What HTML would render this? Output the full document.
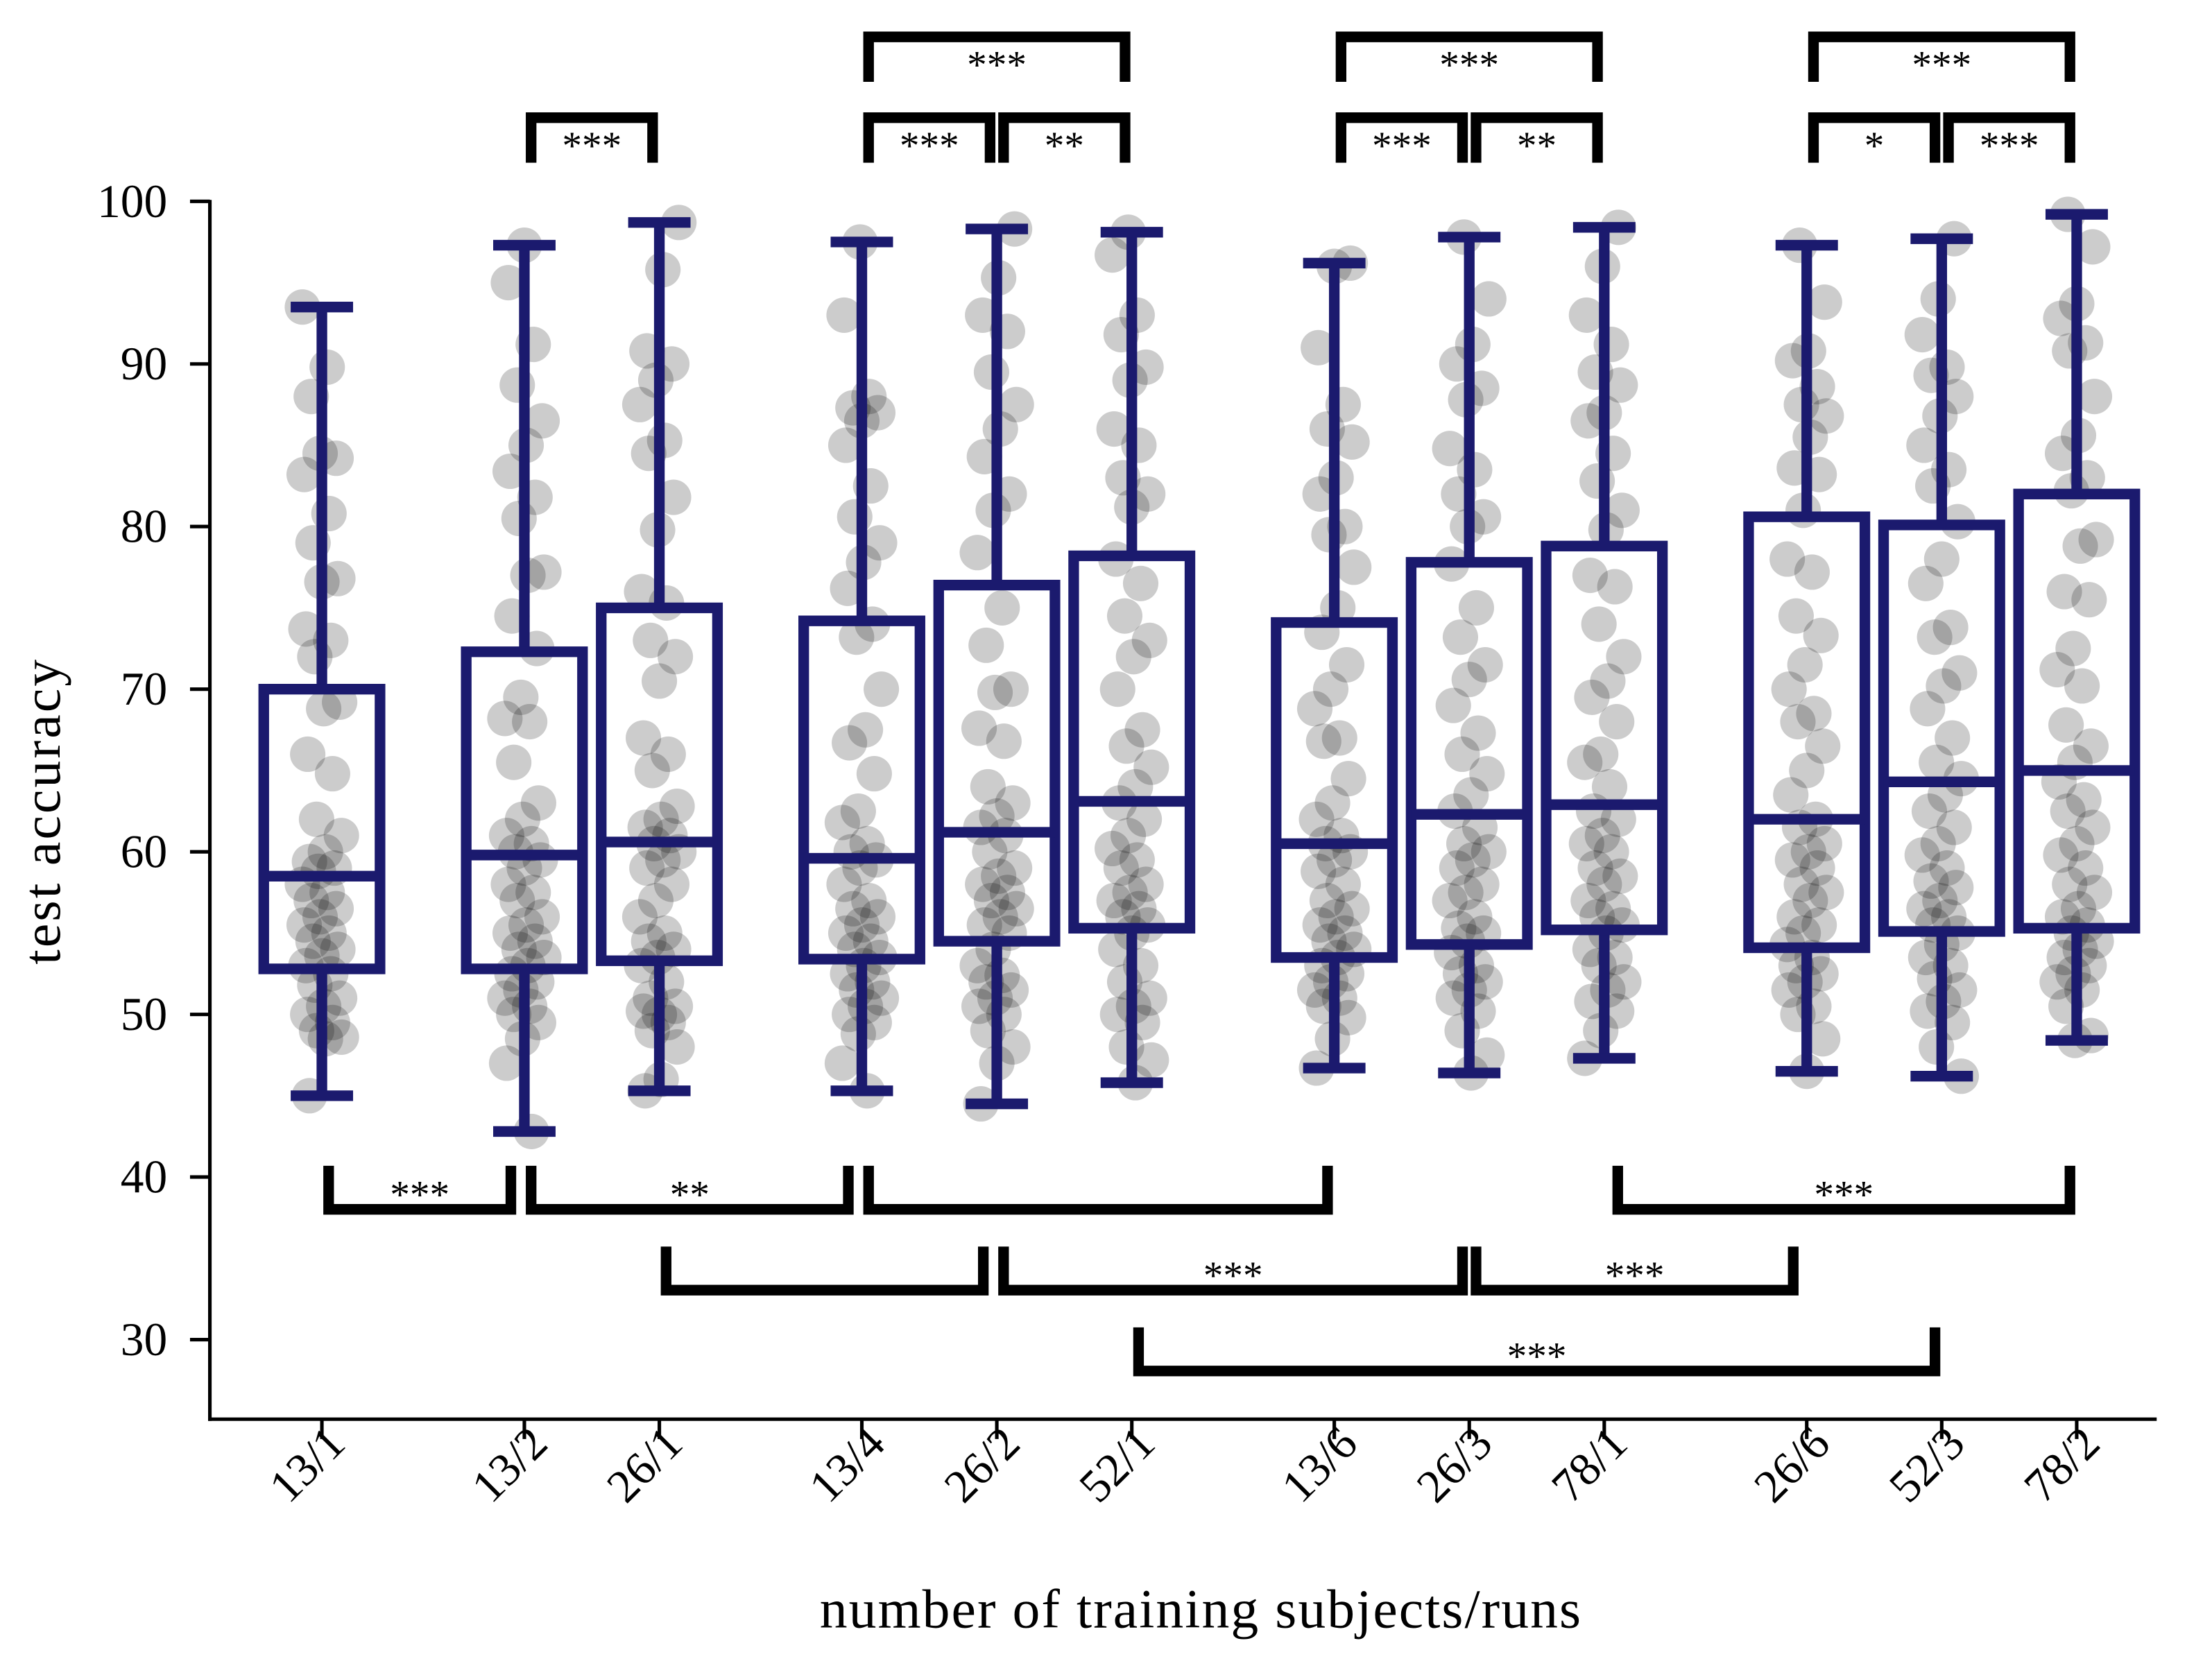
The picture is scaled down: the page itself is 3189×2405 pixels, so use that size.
<!DOCTYPE html>
<html><head><meta charset="utf-8"><style>
html,body{margin:0;padding:0;background:#fff}
svg{display:block}
text{font-family:"Liberation Serif",serif;fill:#000}
</style></head><body>
<svg id="chart" width="3189" height="2405" viewBox="0 0 1560 1176.5" xmlns="http://www.w3.org/2000/svg">
<g id="points"></g>
<g id="boxes"></g>
<g id="axes"></g>
<g id="brackets"></g>
</svg>
<script>
const categories=["13/1","13/2","26/1","13/4","26/2","52/1","13/6","26/3","78/1","26/6","52/3","78/2"];
const positions=[0,1.5,2.5,4,5,6,7.5,8.5,9.5,11,12,13];
const whisLo=[45,42.8,45.3,45.3,44.5,45.8,46.7,46.4,47.3,46.5,46.2,48.4];
const q1=[52.8,52.8,53.3,53.4,54.5,55.3,53.5,54.3,55.2,54.1,55.1,55.3];
const medians=[58.5,59.8,60.6,59.6,61.2,63.1,60.5,62.3,62.9,62,64.3,65];
const q3=[70,72.3,75,74.2,76.4,78.2,74.1,77.8,78.8,80.6,80.1,82];
const whisHi=[93.5,97.3,98.7,97.5,98.3,98.1,96.2,97.8,98.4,97.3,97.7,99.2];
const yTicks=[30,40,50,60,70,80,90,100];
const pts=[
[93.5,89.8,88,84.2,84.5,83.2,80.8,79,76.8,76.6,73.7,73,72,69.2,68.8,66,64.8,62,61,60,59.4,59,58.8,58,57.5,57,56.5,56,55.5,55,54.5,54,53.6,53,52.5,51.8,51,50.5,50,49.5,49,48.6,48.5,45],
[97.3,95,91.2,88.7,86.5,85,83.4,81.8,80.5,77.2,77,74.5,72.5,69.5,68.2,68,65.5,63,62,61,60.5,60,59.5,59,58,57.5,57,56,55.5,55,54.5,54,53.5,53,52.5,52,51.5,51,50.5,50,49.5,48.5,47,42.8],
[98.7,95.8,90.8,90,89,87.5,85.3,84.5,81.8,79.8,76,75.3,73,72,70.5,67,66,65,62.8,62,61.5,61,60.5,60,59.5,59,58,57,56,55,54.5,54,53.5,53,52,51,50.5,50,50.2,49.5,49,48,46,45.3],
[97.5,93,88,87.3,87,86.5,85,82.5,80.6,79,77.8,76.2,74,73.2,70,67.5,66.7,64.8,62.5,61.8,60.5,60,59.5,59,58,57,56.5,56,55.5,55,54.5,54,53.5,53,52.5,52,51.5,51,50.5,50,49.5,48.8,47,45.3],
[98.3,95.3,93,92,89.5,87.5,86,84.3,82,81,78.4,75,72.7,70,69.8,67.6,66.8,64,63,62.2,61.5,61,60,59,58.5,58,57.5,57,56.5,56,55.5,55,54,53,52.4,52,51.5,51,50.5,50,49,48,47,44.5],
[98.1,96.7,93,91.8,89.8,89,86,85,83,82,81.2,78,76.5,74.5,73,72,70,67.5,66.5,65.2,64,63,62,61,60.2,59.5,59,58,57.5,57,56.5,56,55.5,55,54,53,52,51,50.5,50,49.5,48,47.2,45.8],
[96.2,96,91,87.5,86,85.2,83,82,80,79.5,77.5,75,73.5,71.5,70,68.8,67,66.8,64.5,63,62,61,60.5,60,59.5,58.8,58,57,56.5,56,55.5,55,54.5,54,53.5,53,52.5,52,51.5,51,50.5,49.8,48.5,46.7],
[97.8,94,91.2,90,88.5,87.8,84.8,83.5,82,80.6,80,77.7,75,73.2,71.5,70.6,69,67.3,66,64.8,63.5,62.5,61.5,60.5,60,59.5,59,58,57.5,57,56,55.3,55,54.5,53.8,53,52.5,52,51.5,51,50.2,49,47.5,46.4],
[98.4,96,93,91.2,89.5,88.7,87,86.5,84.5,82.8,81,79.8,77,76.3,74,72,70.5,69.5,68,66,65.5,64,62.5,62,61,60.5,60,59,58.5,58,57,56.5,56,55.5,55,54,53.5,53,52,51.5,50.8,50.2,49,47.3],
[97.3,93.8,90.8,90.2,88.6,87.5,86.8,85.5,83.6,83.2,81,78,77.2,74.5,73.3,71.5,70,68.5,68,66.5,65,63.5,62,61.5,60.5,60,59.5,59,58,57.5,57,56,55.5,55,54.3,53.5,53,52.5,52,51.5,50.5,50,48.5,46.5],
[97.7,94,91.8,89.8,89.3,88,86.8,85,83.5,82.5,80.3,78,76.5,73.8,73.2,71,70.2,68.8,67,65.5,64.5,63.5,62.5,61.5,60.5,59.8,59,58.2,57.8,57,56.5,56,55.5,55,54.3,53.5,53,52.2,51.5,50.8,50.2,49.5,48,46.2],
[99.2,97.2,93.7,92.8,91.3,90.8,88,85.6,84.5,83,82.2,79.2,78.8,76,75.5,72.5,71.2,70.2,67.8,66.5,65.5,64.3,63.2,62.5,61.5,60.5,59.8,59,58,57.5,56.5,56,55.5,55,54.5,54,53.5,53,52.5,52,51.5,50.5,48.7,48.4]
];
const brackets=[
{a:1.55,b:2.45,row:"t1",lab:"***"},{a:4.05,b:4.95,row:"t1",lab:"***"},{a:5.05,b:5.95,row:"t1",lab:"**"},
{a:7.55,b:8.45,row:"t1",lab:"***"},{a:8.55,b:9.45,row:"t1",lab:"**"},{a:11.05,b:11.95,row:"t1",lab:"*"},{a:12.05,b:12.95,row:"t1",lab:"***"},
{a:4.05,b:5.95,row:"t2",lab:"***"},{a:7.55,b:9.45,row:"t2",lab:"***"},{a:11.05,b:12.95,row:"t2",lab:"***"},
{a:0.05,b:1.4,row:"b1",lab:"***"},{a:1.55,b:3.9,row:"b1",lab:"**"},{a:4.05,b:7.45,row:"b1",lab:""},{a:9.6,b:12.95,row:"b1",lab:"***"},
{a:2.55,b:4.9,row:"b2",lab:""},{a:5.05,b:8.45,row:"b2",lab:"***"},{a:8.55,b:10.9,row:"b2",lab:"***"},
{a:6.05,b:11.95,row:"b3",lab:"***"}
];
const NS="http://www.w3.org/2000/svg";
const X=p=>227+p*95.2;
const Y=v=>142+(100-v)*11.47;
function mk(tag,attrs,parent){const e=document.createElementNS(NS,tag);for(const k in attrs)e.setAttribute(k,attrs[k]);parent.appendChild(e);return e;}
const gP=document.getElementById('points'),gB=document.getElementById('boxes'),gA=document.getElementById('axes'),gK=document.getElementById('brackets');
const C="#1b1a6e";
categories.forEach((c,i)=>{
  const cx=X(positions[i]);
  pts[i].forEach((v,j)=>{
    const off=(((j*37+i*11)%23)-11)*1.25;
    const e=mk('circle',{cx:cx+off,cy:Y(v),r:12.5,fill:'rgba(0,0,0,0.2)'},gP);
    
    
  });
  const g=mk('g',{},gB);
  
  
  const w=41,cap=22,sw=7.5;
  mk('line',{x1:cx,x2:cx,y1:Y(whisHi[i]),y2:Y(q3[i]),stroke:C,'stroke-width':sw},g);
  mk('line',{x1:cx,x2:cx,y1:Y(q1[i]),y2:Y(whisLo[i]),stroke:C,'stroke-width':sw},g);
  mk('line',{x1:cx-cap,x2:cx+cap,y1:Y(whisHi[i]),y2:Y(whisHi[i]),stroke:C,'stroke-width':sw},g);
  mk('line',{x1:cx-cap,x2:cx+cap,y1:Y(whisLo[i]),y2:Y(whisLo[i]),stroke:C,'stroke-width':sw},g);
  mk('rect',{x:cx-w,y:Y(q3[i]),width:2*w,height:Y(q1[i])-Y(q3[i]),fill:'none',stroke:C,'stroke-width':sw},g);
  mk('line',{x1:cx-w,x2:cx+w,y1:Y(medians[i]),y2:Y(medians[i]),stroke:C,'stroke-width':sw},g);
  mk('line',{x1:cx,x2:cx,y1:1001,y2:1015,stroke:'#000','stroke-width':2.5},gA);
  const t=mk('text',{x:cx+18,y:1020,'text-anchor':'end',style:'font-size:33px',transform:`rotate(-45 ${cx+18} 1020)`},gA);
  t.textContent=c;
  
  
});
mk('line',{x1:148,x2:148,y1:141,y2:1002.2,stroke:'#000','stroke-width':2.5},gA);
mk('line',{x1:146.8,x2:1521,y1:1001,y2:1001,stroke:'#000','stroke-width':2.5},gA);
yTicks.forEach(v=>{
  mk('line',{x1:134,x2:148,y1:Y(v),y2:Y(v),stroke:'#000','stroke-width':2.5},gA);
  const t=mk('text',{x:118,y:Y(v)+11,'text-anchor':'end',style:'font-size:33px'},gA);
  t.textContent=v;
  
  
});
const yl=mk('text',{x:42,y:572,'text-anchor':'middle',style:'font-size:38px;letter-spacing:1.5px',transform:'rotate(-90 42 572)'},gA);
yl.textContent='test accuracy';


const xl=mk('text',{x:847,y:1148,'text-anchor':'middle',style:'font-size:39px;letter-spacing:1px'},gA);
xl.textContent='number of training subjects/runs';


const rows={t1:{y:83,d:28,ty:112},t2:{y:26,d:28,ty:55},b1:{y:853,d:-27,ty:852},b2:{y:910,d:-27,ty:909},b3:{y:967,d:-27,ty:966}};
brackets.forEach(b=>{
  const r=rows[b.row],x1=X(b.a),x2=X(b.b);
  const p=mk('path',{d:`M${x1},${r.y+r.d} L${x1},${r.y} L${x2},${r.y} L${x2},${r.y+r.d}`,fill:'none',stroke:'#000','stroke-width':7.5,'stroke-linejoin':'miter','stroke-linecap':'square'},gK);
  
  
  if(b.lab){
    const t=mk('text',{x:(x1+x2)/2,y:r.ty,'text-anchor':'middle',style:'font-size:28px'},gK);
    t.textContent=b.lab;
    
    
  }
});
</script>
</body></html>
